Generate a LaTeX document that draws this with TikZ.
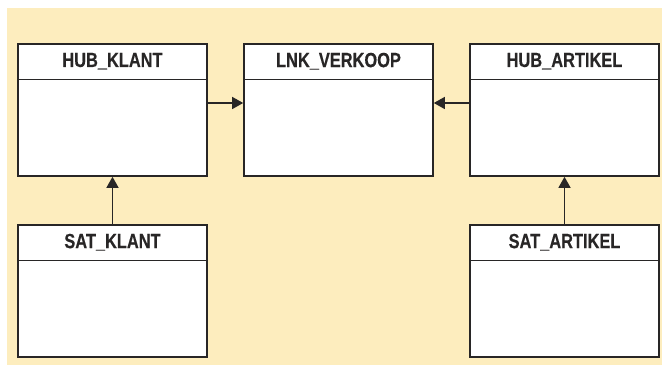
\documentclass[tikz,border=0pt]{standalone}
\usepackage{fontspec}
\newfontfamily\titlefont{Liberation Sans Bold}[FakeStretch=0.8, FakeBold=0.3]
\usetikzlibrary{arrows.meta}
\definecolor{bgyellow}{RGB}{253,237,190}
\definecolor{linegray}{RGB}{40,38,38}
\tikzset{
  entity/.style={draw=linegray, line width=1.6pt, fill=white, minimum width=189pt, minimum height=132pt, inner sep=0pt},
  title/.style={font=\titlefont\fontsize{20.5}{24}\selectfont, text=linegray, anchor=center},
  arr/.style={draw=linegray, line width=1.3pt, -{Triangle[length=11pt,width=12pt]}}
}
\begin{document}
\begin{tikzpicture}[x=1pt,y=-1pt]
\useasboundingbox (0,0) rectangle (662,366);
\fill[bgyellow] (7,8) rectangle (662,365);
\node[entity] (hk) at (112.5,110) {};
\node[entity] (lnk) at (338.5,110) {};
\node[entity] (ha) at (564.5,110) {};
\node[entity] (sk) at (112.5,291) {};
\node[entity] (sa) at (564.5,291) {};
\foreach \n/\t in {hk/HUB\_KLANT, lnk/LNK\_VERKOOP, ha/HUB\_ARTIKEL, sk/SAT\_KLANT, sa/SAT\_ARTIKEL}{
  \draw[linegray, line width=1.3pt] ([yshift=-36pt]\n.north west) -- ([yshift=-36pt]\n.north east);
  \node[title] (\n-t) at ([yshift=-18pt]\n.north) {\t};
}
\draw[arr] ([yshift=7pt]hk.east) -- ([yshift=7pt]lnk.west);
\draw[arr] ([yshift=7pt]ha.west) -- ([yshift=7pt]lnk.east);
\draw[arr] (sk.north) -- (hk.south);
\draw[arr] (sa.north) -- (ha.south);
\end{tikzpicture}
\end{document}
